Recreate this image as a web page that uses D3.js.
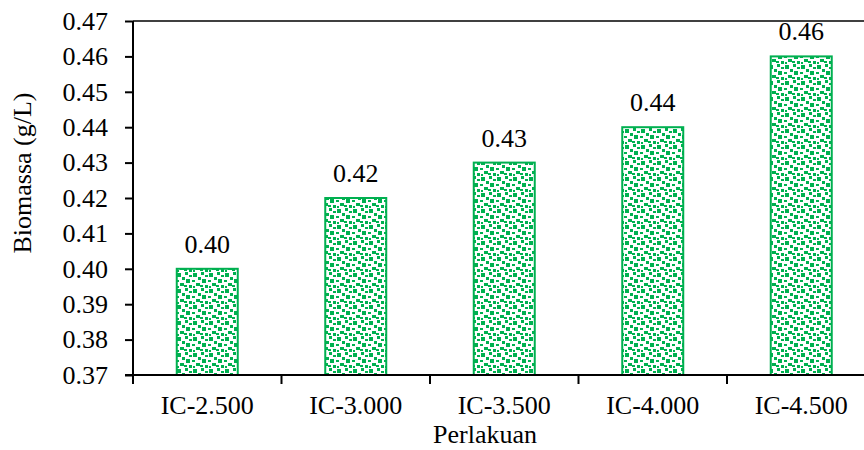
<!DOCTYPE html>
<html>
<head>
<meta charset="utf-8">
<script src="https://cdn.jsdelivr.net/npm/d3@7"></script>
<style>
  body { margin: 0; background: #fff; }
  svg { display: block; }
  svg text { font-family: "Liberation Serif", "Times New Roman", Times, serif; fill: #000; }
</style>
</head>
<body>
<div id="chart"></div>
<script>
const categories = ['IC-2.500', 'IC-3.000', 'IC-3.500', 'IC-4.000', 'IC-4.500'];
const biomassa = [0.40, 0.42, 0.43, 0.44, 0.46];
const yTicks = [0.37, 0.38, 0.39, 0.40, 0.41, 0.42, 0.43, 0.44, 0.45, 0.46, 0.47];

const width = 864;
const height = 450;
const plotLeft = 133;
const plotTop = 21;
const plotBottom = 375;
const band = 148.5;

const svg = d3.select('#chart')
    .append('svg')
    .attr('width', width)
    .attr('height', height);

// pola kotak-kotak hijau
const defs = svg.append('defs');
const pat = defs.append('pattern')
    .attr('id', 'dots')
    .attr('patternUnits', 'userSpaceOnUse')
    .attr('width', 16)
    .attr('height', 16);
pat.append('rect').attr('width', 16).attr('height', 16).attr('fill', '#fff');
const squares = [
    [1, 1, 4, 4], [9, 0, 3, 3], [13, 3, 3, 2], [6, 5, 3, 3],
    [0, 8, 3, 2], [10, 7, 4, 4], [4, 11, 4, 3], [13, 13, 3, 3],
    [1, 14, 2, 2], [8, 13, 3, 2]
];
squares.forEach(s => {
    pat.append('rect')
        .attr('x', s[0]).attr('y', s[1])
        .attr('width', s[2]).attr('height', s[3])
        .attr('fill', '#00b050');
});

const x = d3.scaleBand()
    .domain(categories)
    .range([plotLeft, plotLeft + band * categories.length])
    .paddingInner(0)
    .paddingOuter(0);

const y = d3.scaleLinear()
    .domain([0.37, 0.47])
    .range([plotBottom, plotTop]);

const barW = 61;

// bingkai atas
svg.append('line')
    .attr('x1', plotLeft).attr('x2', width)
    .attr('y1', y(0.47)).attr('y2', y(0.47))
    .attr('stroke', '#000')
    .attr('stroke-width', 1.5);

svg.selectAll('rect.bar')
    .data(biomassa)
    .enter()
    .append('rect')
    .attr('class', 'bar')
    .attr('x', (d, i) => x(categories[i]) + band / 2 - barW / 2)
    .attr('y', d => y(d))
    .attr('width', barW)
    .attr('height', d => plotBottom - y(d))
    .attr('fill', 'url(#dots)')
    .attr('stroke', '#00b050')
    .attr('stroke-width', 2);

svg.selectAll('text.val')
    .data(biomassa)
    .enter()
    .append('text')
    .attr('class', 'val')
    .attr('x', (d, i) => x(categories[i]) + band / 2)
    .attr('y', d => y(d) - 16)
    .attr('text-anchor', 'middle')
    .style('font-size', '26px')
    .text(d => d.toFixed(2));

// sumbu Y
const yAxis = svg.append('g')
    .attr('transform', `translate(${plotLeft},0)`)
    .call(d3.axisLeft(y).tickValues(yTicks).tickFormat(d3.format('.2f')).tickSize(8).tickPadding(17));
yAxis.select('.domain').attr('stroke-width', 2).attr('d', `M0,${plotBottom}V${plotTop}`);
yAxis.selectAll('.tick line').attr('stroke-width', 2);
yAxis.selectAll('text').style('font-size', '26px');

// sumbu X
const xAxis = svg.append('g')
    .attr('transform', `translate(0,${plotBottom})`)
    .call(d3.axisBottom(x).tickSize(0));
xAxis.select('.domain').attr('stroke-width', 2).attr('d', `M${plotLeft - 8},0H${width}`);
xAxis.selectAll('text')
    .attr('y', 39)
    .attr('dy', null)
    .style('font-size', '26px');

const bounds = d3.range(categories.length + 1).map(i => plotLeft + i * band);
xAxis.selectAll('line.sep')
    .data(bounds.filter(b => b < width))
    .enter()
    .append('line')
    .attr('class', 'sep')
    .attr('x1', d => d).attr('x2', d => d)
    .attr('y1', 0).attr('y2', 9)
    .attr('stroke', '#000')
    .attr('stroke-width', 2);

svg.append('text')
    .attr('x', 485)
    .attr('y', 443)
    .attr('text-anchor', 'middle')
    .style('font-size', '26px')
    .text('Perlakuan');

svg.append('text')
    .attr('transform', `translate(31,173) rotate(-90)`)
    .attr('text-anchor', 'middle')
    .style('font-size', '26px')
    .text('Biomassa (g/L)');
</script>
</body>
</html>
